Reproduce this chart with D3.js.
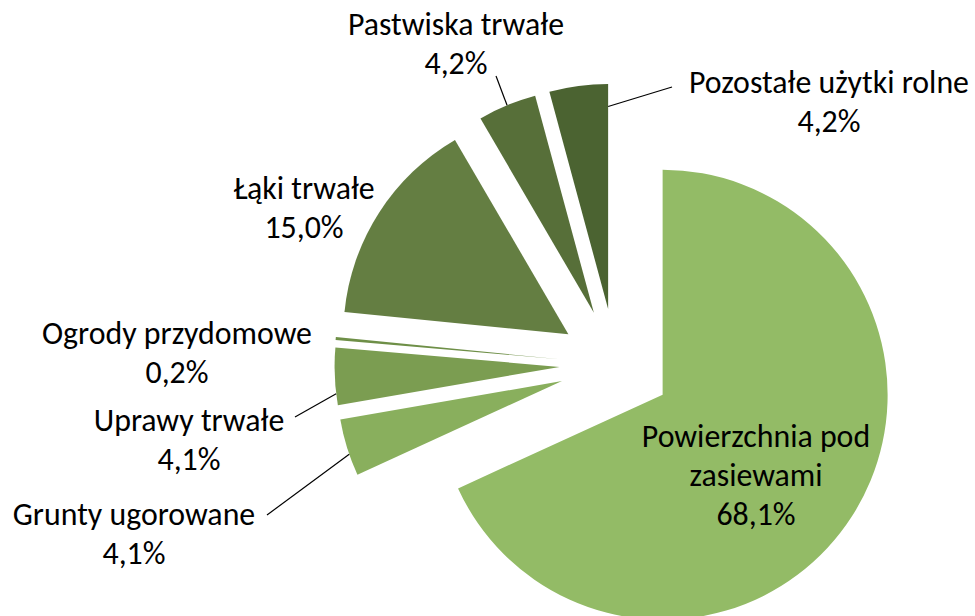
<!DOCTYPE html>
<html>
<head>
<meta charset="utf-8">
<script src="https://cdn.jsdelivr.net/npm/d3@7"></script>
<style>
  body { margin: 0; background: #fff; }
  text { font-family: Calibri, Carlito, Lato, sans-serif; fill: #000; }
</style>
</head>
<body>
<div class="canvas"></div>
<script>
// data
const categories = [
  'Powierzchnia pod zasiewami',
  'Grunty ugorowane',
  'Uprawy trwałe',
  'Ogrody przydomowe',
  'Łąki trwałe',
  'Pastwiska trwałe',
  'Pozostałe użytki rolne'
];
const shares = [68.1, 4.1, 4.1, 0.2, 15.0, 4.2, 4.2];
const labelLines = [
  ['Powierzchnia pod', 'zasiewami', '68,1%'],
  ['Grunty ugorowane', '4,1%'],
  ['Uprawy trwałe', '4,1%'],
  ['Ogrody przydomowe', '0,2%'],
  ['Łąki trwałe', '15,0%'],
  ['Pastwiska trwałe', '4,2%'],
  ['Pozostałe użytki rolne', '4,2%']
];
const colors = ['#93bb66', '#89af5d', '#7b9d51', '#6e8f47', '#647e42', '#576f39', '#4b6331'];

// layout
const width = 975, height = 616;
const cx = 615.5, cy = 364.5;
const radius = 225;
const explode = 56;
const lineH = 38.8;
// label anchors (centre x, first baseline) and leader settings
const labelPos = [
  {x: 756, y: 447},
  {x: 134, y: 525, lead: {x: 267, y: 515, t: 0.38, rf: 1}},
  {x: 189, y: 431, lead: {x: 295, y: 417, t: 0.2, rf: 1}},
  {x: 177, y: 344},
  {x: 304, y: 199},
  {x: 456, y: 35, lead: {x: 496, y: 76, t: 0.5, rf: 1}},
  {x: 829, y: 93, lead: {x: 672, y: 87, t: 1, rf: 0.9}}
];

const svg = d3.select('.canvas').append('svg')
  .attr('width', width)
  .attr('height', height);

const graph = svg.append('g')
  .attr('transform', `translate(${cx}, ${cy})`);

const pie = d3.pie().sort(null).value(d => d);
const arc = d3.arc().innerRadius(0).outerRadius(radius);
const slices = pie(shares);

// unit direction for an angle measured clockwise from 12 o'clock
const dir = a => [Math.sin(a), -Math.cos(a)];
const offset = d => dir((d.startAngle + d.endAngle) / 2).map(v => v * explode);

graph.selectAll('path')
  .data(slices)
  .enter().append('path')
  .attr('d', arc)
  .attr('fill', (d, i) => colors[i])
  .attr('transform', d => `translate(${offset(d)})`);

// leader lines
slices.forEach((d, i) => {
  const lp = labelPos[i].lead;
  if (!lp) return;
  const o = offset(d);
  const a = d.startAngle + (d.endAngle - d.startAngle) * lp.t;
  const v = dir(a);
  const ex = cx + o[0] + v[0] * radius * lp.rf;
  const ey = cy + o[1] + v[1] * radius * lp.rf;
  svg.append('line')
    .attr('x1', lp.x).attr('y1', lp.y)
    .attr('x2', ex).attr('y2', ey)
    .attr('stroke', '#000')
    .attr('stroke-width', 1.2);
});

// labels
const labels = svg.selectAll('text.lbl')
  .data(slices)
  .enter().append('text')
  .attr('class', 'lbl')
  .attr('text-anchor', 'middle')
  .attr('x', (d, i) => labelPos[i].x)
  .attr('y', (d, i) => labelPos[i].y);

labels.selectAll('tspan')
  .data((d, i) => labelLines[i])
  .enter().append('tspan')
  .attr('x', function() { return this.parentNode.getAttribute('x'); })
  .attr('dy', (d, j) => j === 0 ? 0 : lineH)
  .text(d => d);

// fit font size so widths resemble the original (Calibri is narrow)
labels.style('font-size', '30px');
const probe = labels.filter((d, i) => i === 3).select('tspan').node();
const w = probe.getComputedTextLength();
const fs = 30 * 270 / w;
labels.style('font-size', fs + 'px');
</script>
</body>
</html>
